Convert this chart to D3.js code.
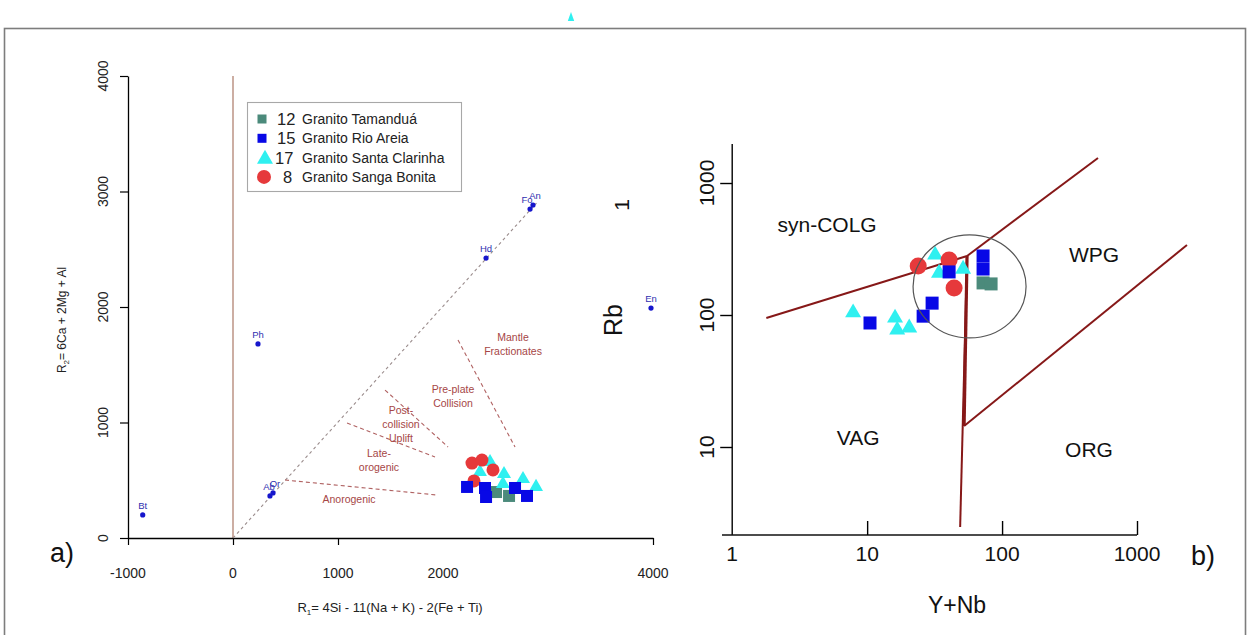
<!DOCTYPE html>
<html>
<head>
<meta charset="utf-8">
<script src="https://cdn.jsdelivr.net/npm/d3@7"></script>
<style>
body { margin: 0; background: #fff; }
text { font-family: "Liberation Sans", Arial, sans-serif; }
</style>
</head>
<body>
<script>
// legend / series
var seriesNames = ["Granito Tamanduá", "Granito Rio Areia", "Granito Santa Clarinha", "Granito Sanga Bonita"];
var seriesCounts = ["12", "15", "17", "8"];
var seriesColors = ["#4b8a7b", "#0808e6", "#2ff0f0", "#e6393b"];
var seriesShapes = ["square", "square", "triangle", "circle"];

// panel a) R1 - R2
var tamR1 = [2505, 2629], tamR2 = [398, 364];
var rioR1 = [2229, 2400, 2410, 2686, 2800], rioR2 = [442, 433, 355, 433, 364];
var staR1 = [2448, 2352, 2581, 2571, 2762, 2886], staR2 = [658, 571, 554, 468, 511, 442];
var sanR1 = [2276, 2371, 2476, 2295], sanR2 = [649, 675, 589, 494];

var mineralNames = ["Bt", "Ph", "Ab", "Or", "Hd", "Fo", "An", "En"];
var mineralR1 = [-860, 238, 352, 381, 2410, 2829, 2857, 3981];
var mineralR2 = [200, 1680, 364, 390, 2424, 2848, 2883, 1991];

var diagR1 = [0, 2890], diagR2 = [0, 2900];

var fieldX1 = [495, 1086, 1448, 2143], fieldY1 = [502, 996, 1281, 1714];
var fieldX2 = [1943, 1924, 2048, 2686], fieldY2 = [372, 701, 788, 788];

var fieldText = [["Mantle", "Fractionates"], ["Pre-plate", "Collision"], ["Post-", "collision", "Uplift"], ["Late-", "orogenic"], ["Anorogenic"]];
var fieldTextR1 = [2667, 2095, 1600, 1390, 1105];
var fieldTextR2 = [1740, 1290, 1108, 736, 338];

var aTicksX = [-1000, 0, 1000, 2000, 4000];
var aTickMarksX = [-1000, 0, 1000, 4000];
var aTicksY = [0, 1000, 2000, 3000, 4000];

// panel b) Y+Nb - Rb
var tamYNb = [72.3, 82.9], tamRb = [175, 172];
var rioYNb = [40.5, 72.3, 72.3, 30.3, 26.0, 10.5], rioRb = [212, 280, 223, 123, 98, 87];
var staYNb = [31.9, 34.1, 51.4, 7.87, 16.1, 16.7, 20.5], staRb = [285, 208, 223, 104, 95, 77, 80];
var sanYNb = [23.9, 40.5, 44.1], sanRb = [235, 261, 160];

var pearceX1 = [1.79, 55, 52.3, 55], pearceY1 = [95, 280, 14.4, 280];
var pearceX2 = [55, 514, 2346, 48.9], pearceY2 = [280, 1546, 339, 2.48];

var regionNames = ["syn-COLG", "WPG", "VAG", "ORG"];
var regionYNb = [5.05, 480, 8.58, 441];
var regionRb = [481, 285, 11.9, 9.5];

var ellipseYNb = [21.9, 150.6], ellipseRb = [67, 404];

var bTicksX = [1, 10, 100, 1000];
var bTickMarksX = [10, 100, 1000];
var bTicksY = [10, 100, 1000];

var W = 1248, H = 635;
var svg = d3.select("body").append("svg").attr("width", W).attr("height", H);

// outer frame and stray marker
svg.append("rect").attr("x", 4.5).attr("y", 28.5).attr("width", 1241).attr("height", 640)
    .attr("fill", "none").attr("stroke", "#7d7d7d").attr("stroke-width", 1.6);
svg.append("path").attr("d", d3.symbol(d3.symbolTriangle, 28)())
    .attr("transform", "translate(571,18) scale(0.8,1.3)").attr("fill", "#2ff0f0");

function shape(g, kind, color, size) {
    if (kind === "circle") {
        return g.append("circle").attr("r", size / 2).attr("fill", color);
    }
    if (kind === "square") {
        return g.append("rect").attr("x", -size / 2).attr("y", -size / 2)
            .attr("width", size).attr("height", size).attr("fill", color);
    }
    var s = size * size * 0.433;
    return g.append("path").attr("d", d3.symbol(d3.symbolTriangle, s)()).attr("fill", color);
}

// ================= panel a =================
var xa = d3.scaleLinear().domain([-1000, 4000]).range([128, 653]);
var ya = d3.scaleLinear().domain([0, 4000]).range([538, 76]);
var A = svg.append("g");

A.append("line").attr("x1", xa(0)).attr("x2", xa(0)).attr("y1", ya(4000)).attr("y2", ya(0))
    .attr("stroke", "#c09a8c").attr("stroke-width", 1.6);

var ax = A.append("g").attr("transform", "translate(0," + ya(0) + ")")
    .call(d3.axisBottom(xa).tickValues(aTickMarksX).tickSize(7).tickSizeOuter(0).tickFormat(""));
ax.select(".domain").attr("stroke-width", 1.3);
ax.selectAll(".tick line").attr("stroke-width", 1.2);
A.selectAll(".xlab").data(aTicksX).enter().append("text")
    .attr("x", function(d) { return xa(d); }).attr("y", 578)
    .attr("text-anchor", "middle").attr("font-size", 14).attr("fill", "#222")
    .text(function(d) { return d; });

var ay = A.append("g").attr("transform", "translate(" + xa(-1000) + ",0)")
    .call(d3.axisLeft(ya).tickValues(aTicksY).tickSize(8).tickSizeOuter(0).tickFormat(""));
ay.select(".domain").attr("stroke-width", 1.3);
ay.selectAll(".tick line").attr("stroke-width", 1.2);
A.selectAll(".ylab").data(aTicksY).enter().append("text")
    .attr("transform", function(d) { return "translate(108," + ya(d) + ") rotate(-90)"; })
    .attr("text-anchor", "middle").attr("font-size", 14).attr("fill", "#222")
    .text(function(d) { return d; });

var xt = A.append("text").attr("x", 390).attr("y", 612).attr("text-anchor", "middle")
    .attr("font-size", 13).attr("fill", "#222");
xt.append("tspan").text("R");
xt.append("tspan").attr("font-size", 8).attr("dy", 3).text("1");
xt.append("tspan").attr("dy", -3).text("= 4Si - 11(Na + K) - 2(Fe + Ti)");

var yt = A.append("text").attr("transform", "translate(66,320) rotate(-90)").attr("text-anchor", "middle")
    .attr("font-size", 12).attr("fill", "#222");
yt.append("tspan").text("R");
yt.append("tspan").attr("font-size", 8).attr("dy", 3).text("2");
yt.append("tspan").attr("dy", -3).text("= 6Ca + 2Mg + Al");

A.append("text").attr("x", 62).attr("y", 562).attr("text-anchor", "middle")
    .attr("font-size", 27).attr("fill", "#111").text("a)");

// diagonal and field boundaries
A.append("line").attr("x1", xa(diagR1[0])).attr("y1", ya(diagR2[0]))
    .attr("x2", xa(diagR1[1])).attr("y2", ya(diagR2[1]))
    .attr("stroke", "#9a8c8c").attr("stroke-width", 1.1).attr("stroke-dasharray", "3,3");
A.selectAll(".field").data(fieldX1).enter().append("line")
    .attr("x1", function(d) { return xa(d); })
    .attr("y1", function(d, i) { return ya(fieldY1[i]); })
    .attr("x2", function(d, i) { return xa(fieldX2[i]); })
    .attr("y2", function(d, i) { return ya(fieldY2[i]); })
    .attr("stroke", "#b06262").attr("stroke-width", 1.1).attr("stroke-dasharray", "4,3");

fieldText.forEach(function(lines, i) {
    var t = A.append("text").attr("text-anchor", "middle").attr("font-size", 10.5).attr("fill", "#a64646");
    lines.forEach(function(s, j) {
        t.append("tspan").attr("x", xa(fieldTextR1[i])).attr("y", ya(fieldTextR2[i]) + 4 + j * 14).text(s);
    });
});

// minerals (Ab/Or and Fo/An labels sit almost on top of each other, as in the source)
var labelDx = [0, 0, -1, 2, 0, -3, 2, 0];
mineralNames.forEach(function(n, i) {
    A.append("circle").attr("cx", xa(mineralR1[i])).attr("cy", ya(mineralR2[i])).attr("r", 2.6).attr("fill", "#1616cc");
    A.append("text").attr("x", xa(mineralR1[i]) + labelDx[i]).attr("y", ya(mineralR2[i]) - 6)
        .attr("text-anchor", "middle").attr("font-size", 9.5).attr("fill", "#3030b0").text(n);
});

// samples
var aSeries = [[tamR1, tamR2], [rioR1, rioR2], [staR1, staR2], [sanR1, sanR2]];
var aSizes = [12, 12, 14, 13];
var aOrder = [0, 2, 3, 1];
aOrder.forEach(function(k) {
    aSeries[k][0].forEach(function(v, i) {
        var g = A.append("g").attr("transform", "translate(" + xa(v) + "," + ya(aSeries[k][1][i]) + ")");
        shape(g, seriesShapes[k], seriesColors[k], aSizes[k]);
    });
});

// legend
A.append("rect").attr("x", 247.5).attr("y", 102.5).attr("width", 214).attr("height", 89)
    .attr("fill", "#fff").attr("stroke", "#a8a8a8").attr("stroke-width", 1.1);
var legSymX = [262, 262, 265, 264], legSymSize = [9, 9, 16, 14], legNumX = [277, 277, 275, 283];
seriesNames.forEach(function(n, i) {
    var y = 119 + i * 19.3;
    var g = A.append("g").attr("transform", "translate(" + legSymX[i] + "," + (i === 2 ? y + 1.5 : y) + ")");
    shape(g, seriesShapes[i], seriesColors[i], legSymSize[i]);
    A.append("text").attr("x", legNumX[i]).attr("y", y + 6).attr("font-size", 16.5).attr("fill", "#222").text(seriesCounts[i]);
    A.append("text").attr("x", 302).attr("y", y + 5).attr("font-size", 14).attr("fill", "#222").text(n);
});

// ================= panel b =================
var xb = d3.scaleLog().domain([0.84, 1000]).range([722, 1137]);
var yb = d3.scaleLog().domain([2.154, 1975]).range([535, 144]);
var B = svg.append("g");

B.append("line").attr("x1", xb(0.84)).attr("x2", xb(1000)).attr("y1", yb(2.154)).attr("y2", yb(2.154))
    .attr("stroke", "#111").attr("stroke-width", 1.5);
B.append("line").attr("x1", xb(1)).attr("x2", xb(1)).attr("y1", yb(2.154)).attr("y2", yb(1975))
    .attr("stroke", "#111").attr("stroke-width", 1.5);

var bx = B.append("g").attr("transform", "translate(0," + yb(2.154) + ")")
    .call(d3.axisBottom(xb).tickValues(bTickMarksX).tickSize(-14).tickSizeOuter(0).tickFormat(""));
bx.select(".domain").remove();
bx.selectAll(".tick line").attr("stroke-width", 1.4);
B.selectAll(".bxlab").data(bTicksX).enter().append("text")
    .attr("x", function(d) { return xb(d); }).attr("y", 561)
    .attr("text-anchor", "middle").attr("font-size", 21).attr("fill", "#111")
    .text(function(d) { return d; });

var by = B.append("g").attr("transform", "translate(" + xb(1) + ",0)")
    .call(d3.axisLeft(yb).tickValues(bTicksY).tickSize(12).tickSizeOuter(0).tickFormat(""));
by.select(".domain").remove();
by.selectAll(".tick line").attr("stroke-width", 1.4);
B.selectAll(".bylab").data(bTicksY).enter().append("text")
    .attr("transform", function(d) { return "translate(714," + yb(d) + ") rotate(-90)"; })
    .attr("text-anchor", "middle").attr("font-size", 21).attr("fill", "#111")
    .text(function(d) { return d; });

B.append("text").attr("transform", "translate(622,320) rotate(-90)").attr("text-anchor", "middle")
    .attr("font-size", 25).attr("fill", "#111").text("Rb");
B.append("text").attr("transform", "translate(629,205) rotate(-90)").attr("text-anchor", "middle")
    .attr("font-size", 21).attr("fill", "#111").text("1");
B.append("text").attr("x", 957).attr("y", 613).attr("text-anchor", "middle")
    .attr("font-size", 23).attr("fill", "#111").text("Y+Nb");
B.append("text").attr("x", 1203).attr("y", 565).attr("text-anchor", "middle")
    .attr("font-size", 27).attr("fill", "#111").text("b)");

// boundaries
B.selectAll(".pearce").data(pearceX1).enter().append("line")
    .attr("x1", function(d) { return xb(d); })
    .attr("y1", function(d, i) { return yb(pearceY1[i]); })
    .attr("x2", function(d, i) { return xb(pearceX2[i]); })
    .attr("y2", function(d, i) { return yb(pearceY2[i]); })
    .attr("stroke", "#861818").attr("stroke-width", 2);
B.append("line").attr("x1", xb(pearceX1[3])).attr("y1", yb(pearceY1[3]))
    .attr("x2", xb(pearceX1[2])).attr("y2", yb(pearceY1[2]))
    .attr("stroke", "#861818").attr("stroke-width", 3.2);

regionNames.forEach(function(n, i) {
    B.append("text").attr("x", xb(regionYNb[i])).attr("y", yb(regionRb[i]) + 7.5)
        .attr("text-anchor", "middle").attr("font-size", 21).attr("fill", "#111").text(n);
});

var bSeries = [[tamYNb, tamRb], [rioYNb, rioRb], [staYNb, staRb], [sanYNb, sanRb]];
var bSizes = [13, 13, 16, 17];
var bOrder = [2, 3, 1, 0];
bOrder.forEach(function(k) {
    bSeries[k][0].forEach(function(v, i) {
        var g = B.append("g").attr("transform", "translate(" + xb(v) + "," + yb(bSeries[k][1][i]) + ")");
        shape(g, seriesShapes[k], seriesColors[k], bSizes[k]);
    });
});

var ex0 = xb(ellipseYNb[0]), ex1 = xb(ellipseYNb[1]);
var ey0 = yb(ellipseRb[1]), ey1 = yb(ellipseRb[0]);
B.append("ellipse").attr("cx", (ex0 + ex1) / 2).attr("cy", (ey0 + ey1) / 2)
    .attr("rx", (ex1 - ex0) / 2).attr("ry", (ey1 - ey0) / 2)
    .attr("fill", "none").attr("stroke", "#555").attr("stroke-width", 1.2);
</script>
</body>
</html>
